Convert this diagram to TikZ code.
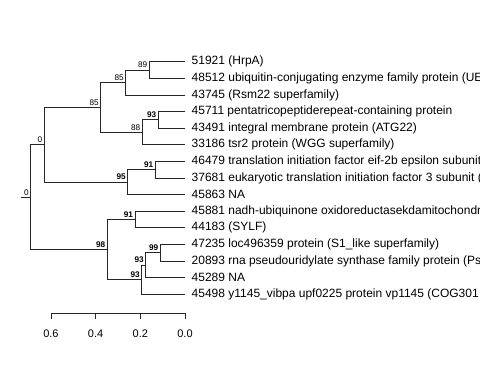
\documentclass[tikz,border=0pt]{standalone}
\usepackage{fontspec}
\setmainfont{Liberation Sans}
\usetikzlibrary{positioning,calc}

\begin{document}
\begin{tikzpicture}[x=1pt,y=-1pt,line width=0.8pt,draw=black!85,
  tip/.style={anchor=west,inner xsep=6.3pt,inner ysep=0pt,font=\fontsize{12}{14}\selectfont},
  boot/.style={anchor=south east,inner sep=0pt,xshift=-1.6pt,yshift=1.6pt,font=\fontsize{8.2}{9}\selectfont},
  strong/.style={boot,font=\fontsize{8.2}{9}\selectfont\bfseries},
  scalelabel/.style={inner sep=0pt,font=\fontsize{11}{13}\selectfont}]
  \useasboundingbox (0,0) rectangle (480,384);
  \clip (0,0) rectangle (480,384);
  \foreach \txt [count=\i from 0] in {51921 (HrpA),48512 ubiquitin-conjugating enzyme family protein (UE,43745 (Rsm22 superfamily),45711 pentatricopeptiderepeat-containing protein,43491 integral membrane protein (ATG22),33186 tsr2 protein (WGG superfamily),46479 translation initiation factor eif-2b epsilon subunit,37681 eukaryotic translation initiation factor 3 subunit (,45863 NA,45881 nadh-ubiquinone oxidoreductasekdamitochondr,44183 (SYLF),47235 loc496359 protein (S1\_like superfamily),20893 rna pseudouridylate synthase family protein (Ps,45289 NA,45498 y1145\_vibpa upf0225 protein vp1145 (COG301}
    \node[tip] (t\i) at (185,{61.7+16.6*\i}) {\txt};
  \coordinate (stem) at (20.5,197.1);
  \coordinate (root) at (30.7,197.1);
  \coordinate (n0) at (44.3,144.7);
  \coordinate (n85a) at (100.7,107.4);
  \coordinate (n85b) at (125.7,82.5);
  \coordinate (n89) at (149.3,70);
  \coordinate (n88) at (142.3,132.2);
  \coordinate (n93a) at (158.3,119.8);
  \coordinate (n95) at (127.7,182);
  \coordinate (n91a) at (155.3,169.6);
  \coordinate (n98) at (107.3,249.5);
  \coordinate (n91b) at (135,219.4);
  \coordinate (n93o) at (141.7,279.6);
  \coordinate (n93i) at (145.7,265);
  \coordinate (n99) at (160.3,252.6);
  \draw (stem)--(root);
  \draw (root)|-(n0);\draw (root)|-(n98);
  \draw (n0)|-(n85a);\draw (n0)|-(n95);
  \draw (n85a)|-(n85b);\draw (n85a)|-(n88);
  \draw (n85b)|-(n89);\draw (n85b)|-(t2.west);
  \draw (n89)|-(t0.west);\draw (n89)|-(t1.west);
  \draw (n88)|-(n93a);\draw (n88)|-(t5.west);
  \draw (n93a)|-(t3.west);\draw (n93a)|-(t4.west);
  \draw (n95)|-(n91a);\draw (n95)|-(t8.west);
  \draw (n91a)|-(t6.west);\draw (n91a)|-(t7.west);
  \draw (n98)|-(n91b);\draw (n98)|-(n93o);
  \draw (n91b)|-(t9.west);\draw (n91b)|-(t10.west);
  \draw (n93o)|-(n93i);\draw (n93o)|-(t14.west);
  \draw (n93i)|-(n99);\draw (n93i)|-(t13.west);
  \draw (n99)|-(t11.west);\draw (n99)|-(t12.west);
  \node[boot] (broot) at (root) {0};
  \node[boot] (bn0) at (n0) {0};
  \node[boot] (bn85a) at (n85a) {85};
  \node[boot] (bn85b) at (n85b) {85};
  \node[boot] (bn89) at (n89) {89};
  \node[boot] (bn88) at (n88) {88};
  \node[strong] (bn93a) at (n93a) {93};
  \node[strong] (bn95) at (n95) {95};
  \node[strong] (bn91a) at (n91a) {91};
  \node[strong] (bn98) at (n98) {98};
  \node[strong] (bn91b) at (n91b) {91};
  \node[strong] (bn93o) at (n93o) {93};
  \node[strong] (bn93i) at (n93i) {93};
  \node[strong] (bn99) at (n99) {99};
  \coordinate (a0) at (185,313);
  \coordinate (a6) at (50.9,313);
  \draw (a6)--(a0);
  \foreach \v [count=\k from 0] in {0.0,0.2,0.4,0.6} {
    \coordinate (k\k) at ({185-44.7*\k},313);
    \draw (k\k)--++(0,5.5);
    \node[scalelabel] (l\k) at ({185-44.7*\k},333.3) {\v};
  }
\end{tikzpicture}
\end{document}
